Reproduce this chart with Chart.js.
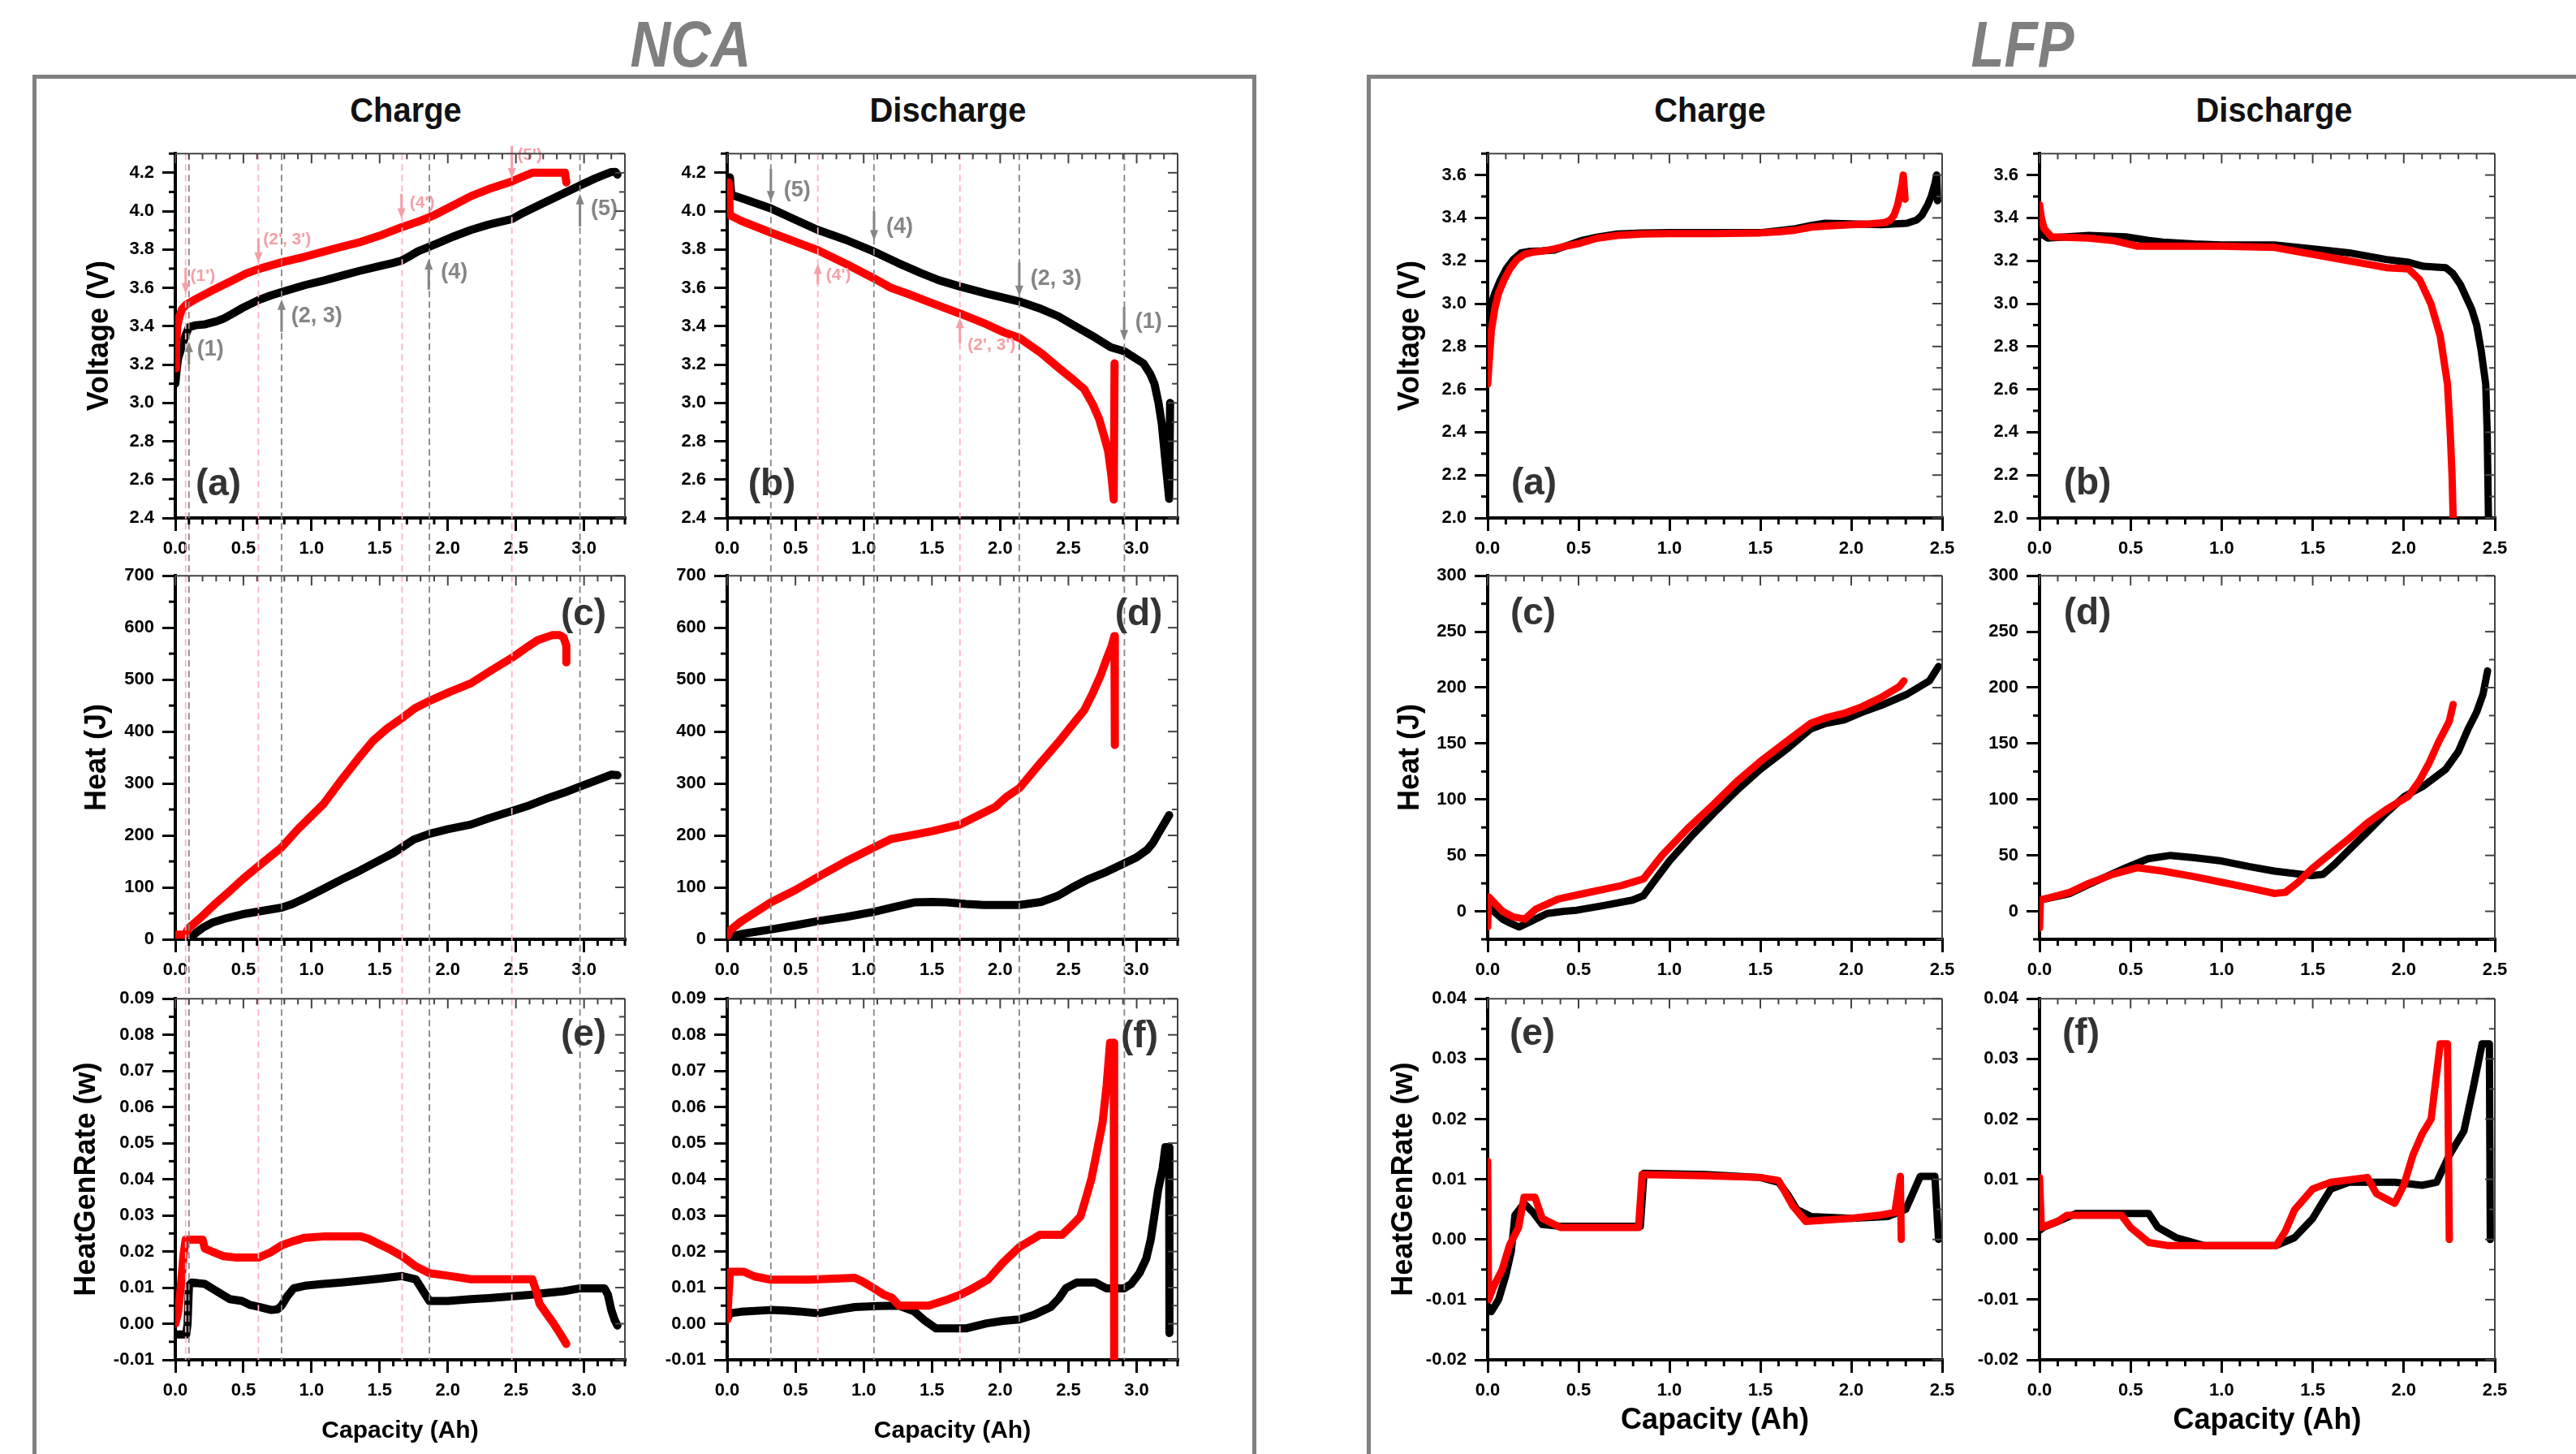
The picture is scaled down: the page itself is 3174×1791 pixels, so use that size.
<!DOCTYPE html>
<html>
<head>
<meta charset="utf-8">
<title>NCA / LFP heat generation</title>
<script src="https://cdn.jsdelivr.net/npm/chart.js@4.4.1/dist/chart.umd.min.js"></script>
<style>
html, body { margin: 0; padding: 0; background: #fff; }
body { position: relative; width: 3174px; height: 1791px; overflow: hidden; font-family: "Liberation Sans", Arial, Helvetica, sans-serif; }
canvas { position: absolute; }
.box { position: absolute; border: 5px solid #808080; border-bottom: 0; }
.lbl { position: absolute; white-space: nowrap; font-weight: bold; line-height: 1; }
</style>
</head>
<body>
<div class="box" style="left:40px; top:92px; width:1498px; height:1760px;"></div>
<div class="box" style="left:1684px; top:92px; width:1600px; height:1760px;"></div>
<script>
// ticks
var ncaCapTicks = [0, 0.5, 1, 1.5, 2, 2.5, 3];
var lfpCapTicks = [0, 0.5, 1, 1.5, 2, 2.5];
var ncaVoltTicks = [2.4, 2.6, 2.8, 3.0, 3.2, 3.4, 3.6, 3.8, 4.0, 4.2];
var ncaHeatTicks = [0, 100, 200, 300, 400, 500, 600, 700];
var ncaRateTicks = [-0.01, 0, 0.01, 0.02, 0.03, 0.04, 0.05, 0.06, 0.07, 0.08, 0.09];
var lfpVoltTicks = [2.0, 2.2, 2.4, 2.6, 2.8, 3.0, 3.2, 3.4, 3.6];
var lfpHeatTicks = [0, 50, 100, 150, 200, 250, 300];
var lfpRateTicks = [-0.02, -0.01, 0, 0.01, 0.02, 0.03, 0.04];

// NCA charge : [capacity Ah, value]
var ncaVoltChgBlack = [[0.0,3.10],[0.01,3.17],[0.02,3.23],[0.05,3.30],[0.08,3.36],[0.10,3.395],[0.15,3.405],[0.22,3.41],[0.30,3.425],[0.35,3.438],[0.42,3.465],[0.49,3.494],[0.55,3.515],[0.61,3.536],[0.70,3.56],[0.78,3.578],[0.95,3.614],[1.10,3.64],[1.22,3.663],[1.35,3.688],[1.49,3.712],[1.60,3.73],[1.66,3.742],[1.72,3.765],[1.78,3.79],[1.865,3.815],[1.95,3.84],[2.04,3.867],[2.17,3.902],[2.30,3.93],[2.47,3.958],[2.55,3.99],[2.66,4.028],[2.80,4.075],[2.97,4.134],[3.08,4.17],[3.15,4.19],[3.20,4.204],[3.23,4.205],[3.245,4.19]];
var ncaVoltChgRed = [[0.0,3.18],[0.005,3.30],[0.015,3.40],[0.03,3.45],[0.05,3.49],[0.076,3.51],[0.136,3.536],[0.27,3.586],[0.41,3.635],[0.52,3.675],[0.61,3.698],[0.78,3.733],[0.95,3.762],[1.09,3.789],[1.22,3.814],[1.36,3.839],[1.50,3.872],[1.66,3.916],[1.80,3.95],[1.90,3.979],[2.04,4.03],[2.17,4.078],[2.32,4.12],[2.47,4.155],[2.55,4.18],[2.62,4.20],[2.86,4.20],[2.87,4.15]];
var ncaHeatChgBlack = [[0.10,0],[0.15,12],[0.20,22],[0.27,32],[0.38,41],[0.49,48],[0.62,54],[0.78,61],[0.86,68],[0.95,79],[1.08,96],[1.22,115],[1.36,133],[1.49,151],[1.60,166],[1.664,177],[1.75,192],[1.865,203],[2.0,212],[2.17,221],[2.30,233],[2.47,247],[2.60,258],[2.715,270],[2.85,282],[2.97,294],[3.10,307],[3.20,317],[3.245,316]];
var ncaHeatChgRed = [[0.0,9],[0.07,9],[0.10,22],[0.20,45],[0.30,70],[0.40,93],[0.50,117],[0.61,141],[0.70,160],[0.78,177],[0.90,212],[1.086,260],[1.22,307],[1.358,353],[1.45,382],[1.55,405],[1.664,426],[1.76,445],[1.865,459],[2.02,477],[2.17,493],[2.32,518],[2.47,542],[2.58,562],[2.66,576],[2.77,586],[2.82,586],[2.85,581],[2.87,565],[2.87,533]];
var ncaRateChgBlack = [[0.0,-0.003],[0.08,-0.003],[0.09,0.0],[0.10,0.0105],[0.12,0.0114],[0.217,0.011],[0.27,0.0098],[0.326,0.0085],[0.40,0.0068],[0.489,0.0063],[0.55,0.0052],[0.61,0.0047],[0.706,0.0038],[0.75,0.004],[0.78,0.005],[0.82,0.0075],[0.869,0.0098],[0.95,0.0105],[1.086,0.011],[1.22,0.0114],[1.358,0.0119],[1.50,0.0125],[1.664,0.0132],[1.765,0.0123],[1.82,0.009],[1.865,0.0063],[2.0,0.0063],[2.172,0.0068],[2.30,0.0071],[2.471,0.0076],[2.60,0.008],[2.715,0.0085],[2.85,0.009],[2.973,0.0098],[3.05,0.0098],[3.15,0.0098],[3.175,0.008],[3.20,0.0038],[3.225,0.001],[3.245,-0.0005]];
var ncaRateChgRed = [[0.0,0.0],[0.02,0.003],[0.04,0.01],[0.06,0.019],[0.076,0.0233],[0.12,0.0233],[0.20,0.0233],[0.217,0.0208],[0.28,0.0198],[0.353,0.0187],[0.45,0.0183],[0.61,0.0183],[0.70,0.0198],[0.78,0.0217],[0.86,0.0228],[0.95,0.0238],[1.10,0.0242],[1.358,0.0242],[1.42,0.0235],[1.493,0.0221],[1.58,0.0205],[1.664,0.0187],[1.76,0.016],[1.865,0.014],[2.0,0.0133],[2.172,0.0123],[2.40,0.0123],[2.62,0.0123],[2.645,0.0095],[2.674,0.0055],[2.72,0.003],[2.77,0.0004],[2.82,-0.0025],[2.87,-0.0056]];

// NCA discharge
var ncaVoltDisBlack = [[0.02,4.176],[0.03,4.085],[0.12,4.064],[0.32,4.014],[0.50,3.955],[0.664,3.902],[0.87,3.85],[1.076,3.789],[1.25,3.73],[1.42,3.677],[1.55,3.64],[1.705,3.607],[1.90,3.57],[2.14,3.529],[2.30,3.49],[2.425,3.452],[2.55,3.40],[2.70,3.339],[2.81,3.29],[2.91,3.269],[3.05,3.206],[3.10,3.15],[3.13,3.10],[3.16,3.00],[3.184,2.89],[3.21,2.70],[3.238,2.50],[3.245,3.0]];
var ncaVoltDisRed = [[0.01,4.15],[0.02,3.979],[0.10,3.95],[0.32,3.888],[0.50,3.84],[0.664,3.796],[0.87,3.725],[1.076,3.649],[1.20,3.60],[1.34,3.564],[1.50,3.52],[1.705,3.466],[1.90,3.41],[2.02,3.37],[2.14,3.339],[2.30,3.26],[2.425,3.185],[2.52,3.13],[2.615,3.072],[2.68,2.99],[2.724,2.918],[2.76,2.83],[2.791,2.749],[2.815,2.62],[2.832,2.496],[2.838,3.206]];
var ncaHeatDisBlack = [[0.0,0],[0.05,7],[0.122,11],[0.32,19],[0.50,27],[0.664,35],[0.87,43],[1.076,53],[1.22,62],[1.37,71],[1.50,72],[1.61,71],[1.75,68],[1.88,66],[2.0,66],[2.14,66],[2.30,72],[2.425,84],[2.53,100],[2.64,115],[2.78,130],[2.908,146],[3.0,158],[3.076,172],[3.12,186],[3.157,203],[3.20,222],[3.238,239]];
var ncaHeatDisRed = [[0.0,6],[0.02,17],[0.10,34],[0.32,71],[0.50,95],[0.664,120],[0.87,150],[1.076,177],[1.20,193],[1.34,200],[1.50,208],[1.705,221],[1.85,240],[1.965,255],[2.05,275],[2.14,291],[2.28,335],[2.425,379],[2.52,410],[2.615,441],[2.68,475],[2.737,509],[2.78,540],[2.818,566],[2.837,584],[2.84,374]];
var ncaRateDisBlack = [[0.0,0.0012],[0.02,0.0029],[0.10,0.0033],[0.32,0.0038],[0.45,0.0036],[0.528,0.0034],[0.664,0.0029],[0.80,0.0038],[0.935,0.0046],[1.10,0.0049],[1.26,0.005],[1.37,0.0034],[1.45,0.0008],[1.53,-0.0013],[1.65,-0.0013],[1.748,-0.0013],[1.90,0.0001],[2.02,0.0008],[2.14,0.0012],[2.25,0.0025],[2.37,0.0046],[2.43,0.007],[2.48,0.0098],[2.56,0.0114],[2.696,0.0114],[2.778,0.0098],[2.908,0.0098],[2.96,0.011],[3.02,0.014],[3.07,0.018],[3.103,0.0233],[3.13,0.03],[3.157,0.037],[3.19,0.043],[3.21,0.0489],[3.238,0.0489],[3.24,-0.0026]];
var ncaRateDisRed = [[0.0,0.0011],[0.02,0.0144],[0.122,0.0144],[0.20,0.0131],[0.32,0.0122],[0.60,0.0122],[0.935,0.0127],[1.0,0.0115],[1.076,0.0098],[1.15,0.008],[1.206,0.0072],[1.26,0.005],[1.477,0.005],[1.60,0.0065],[1.705,0.008],[1.80,0.0098],[1.91,0.0122],[2.02,0.0169],[2.14,0.0212],[2.29,0.0246],[2.453,0.0246],[2.52,0.027],[2.588,0.0297],[2.63,0.035],[2.67,0.0404],[2.71,0.048],[2.75,0.0557],[2.78,0.066],[2.805,0.0778],[2.832,0.0778],[2.835,-0.012]];

// LFP charge
var lfpVoltChgBlack = [[0.0,2.936],[0.02,3.0],[0.04,3.049],[0.07,3.11],[0.102,3.162],[0.14,3.205],[0.184,3.237],[0.224,3.243],[0.30,3.246],[0.367,3.25],[0.44,3.272],[0.51,3.293],[0.60,3.31],[0.714,3.325],[0.85,3.33],[1.0,3.331],[1.25,3.331],[1.50,3.331],[1.60,3.34],[1.694,3.35],[1.78,3.365],[1.857,3.375],[2.0,3.372],[2.163,3.368],[2.306,3.375],[2.36,3.39],[2.388,3.412],[2.42,3.46],[2.44,3.50],[2.46,3.56],[2.47,3.60],[2.475,3.48]];
var lfpVoltChgRed = [[0.0,2.624],[0.01,2.75],[0.02,2.874],[0.04,2.98],[0.06,3.049],[0.09,3.11],[0.122,3.162],[0.16,3.205],[0.204,3.231],[0.25,3.24],[0.30,3.245],[0.367,3.255],[0.44,3.27],[0.51,3.282],[0.60,3.305],[0.714,3.318],[0.85,3.325],[1.0,3.327],[1.25,3.327],[1.50,3.33],[1.60,3.335],[1.694,3.343],[1.78,3.357],[1.857,3.362],[2.0,3.368],[2.10,3.372],[2.184,3.378],[2.215,3.39],[2.235,3.412],[2.255,3.46],[2.265,3.50],[2.28,3.56],[2.286,3.60],[2.296,3.487]];
var lfpHeatChgBlack = [[0.0,5],[0.04,-1],[0.082,-7],[0.13,-11],[0.173,-14],[0.224,-10],[0.327,-2],[0.42,0],[0.49,1],[0.633,5],[0.796,10],[0.857,14],[0.93,30],[1.0,45],[1.12,67],[1.245,88],[1.37,108],[1.50,127],[1.653,146],[1.776,163],[1.86,168],[1.96,171],[2.06,178],[2.163,184],[2.306,194],[2.43,206],[2.48,219]];
var lfpHeatChgRed = [[0.0,-14],[0.005,13],[0.04,7],[0.082,0],[0.14,-5],[0.204,-7],[0.265,2],[0.388,11],[0.531,16],[0.735,23],[0.857,29],[0.959,50],[1.10,74],[1.245,96],[1.37,116],[1.50,134],[1.653,153],[1.776,168],[1.86,173],[1.96,177],[2.06,183],[2.163,191],[2.265,201],[2.29,206]];
var lfpRateChgBlack = [[0.0,-0.011],[0.02,-0.012],[0.06,-0.01],[0.10,-0.006],[0.13,-0.002],[0.15,0.004],[0.20,0.006],[0.25,0.0045],[0.30,0.0025],[0.40,0.0022],[0.60,0.0022],[0.84,0.0022],[0.86,0.011],[1.20,0.0108],[1.50,0.0103],[1.60,0.0095],[1.65,0.0075],[1.70,0.005],[1.78,0.0038],[2.0,0.0035],[2.20,0.0038],[2.30,0.005],[2.38,0.0105],[2.46,0.0105],[2.48,0.0]];
var lfpRateChgRed = [[0.0,0.013],[0.005,-0.01],[0.03,-0.008],[0.08,-0.005],[0.12,-0.001],[0.17,0.002],[0.20,0.007],[0.26,0.007],[0.30,0.0035],[0.40,0.002],[0.60,0.002],[0.83,0.002],[0.85,0.0108],[1.20,0.0106],[1.50,0.0103],[1.60,0.0098],[1.68,0.0055],[1.75,0.003],[2.0,0.0035],[2.15,0.004],[2.24,0.0045],[2.27,0.0105],[2.275,0.0]];

// LFP discharge
var lfpVoltDisBlack = [[0.0,3.34],[0.01,3.325],[0.045,3.306],[0.27,3.318],[0.474,3.312],[0.60,3.295],[0.678,3.287],[0.85,3.278],[1.0,3.274],[1.29,3.274],[1.495,3.256],[1.70,3.237],[1.904,3.206],[2.026,3.193],[2.108,3.174],[2.23,3.168],[2.27,3.14],[2.312,3.087],[2.373,2.974],[2.40,2.90],[2.424,2.786],[2.45,2.624],[2.458,2.40],[2.465,2.0],[2.466,1.95]];
var lfpVoltDisRed = [[0.0,3.462],[0.01,3.40],[0.025,3.35],[0.065,3.312],[0.27,3.306],[0.413,3.293],[0.535,3.268],[0.75,3.268],[1.0,3.268],[1.29,3.262],[1.495,3.231],[1.70,3.20],[1.904,3.168],[2.026,3.162],[2.087,3.112],[2.149,2.999],[2.20,2.849],[2.24,2.624],[2.255,2.40],[2.265,2.2],[2.271,2.0],[2.272,1.95]];
var lfpHeatDisBlack = [[0.0,10],[0.167,16],[0.27,24],[0.474,39],[0.596,47],[0.719,50],[0.85,48],[1.0,45],[1.15,40],[1.29,36],[1.495,32],[1.556,33],[1.62,42],[1.70,55],[1.80,71],[1.904,88],[2.006,103],[2.108,112],[2.23,127],[2.30,143],[2.353,163],[2.40,178],[2.435,194],[2.46,215]];
var lfpHeatDisRed = [[0.0,-15],[0.005,10],[0.167,17],[0.27,25],[0.40,33],[0.535,39],[0.678,36],[0.85,31],[1.0,26],[1.15,21],[1.29,16],[1.35,17],[1.42,26],[1.495,38],[1.60,52],[1.70,65],[1.80,79],[1.904,91],[2.026,103],[2.087,117],[2.14,133],[2.19,151],[2.25,170],[2.271,185]];
var lfpRateDisBlack = [[0.0,0.0015],[0.02,0.002],[0.10,0.003],[0.20,0.0043],[0.40,0.0043],[0.60,0.0043],[0.65,0.002],[0.75,0.0003],[0.90,-0.001],[1.10,-0.001],[1.30,-0.001],[1.40,0.0003],[1.50,0.0035],[1.55,0.006],[1.60,0.0084],[1.70,0.0095],[1.85,0.0095],[1.95,0.0095],[2.10,0.009],[2.18,0.0095],[2.25,0.014],[2.33,0.018],[2.38,0.025],[2.43,0.0325],[2.47,0.0325],[2.475,0.0]];
var lfpRateDisRed = [[0.0,0.0103],[0.01,0.002],[0.10,0.003],[0.15,0.004],[0.45,0.004],[0.50,0.002],[0.60,-0.0005],[0.70,-0.001],[1.0,-0.001],[1.30,-0.001],[1.35,0.0014],[1.40,0.0049],[1.50,0.0084],[1.60,0.0095],[1.80,0.0103],[1.85,0.0076],[1.95,0.006],[2.0,0.009],[2.05,0.014],[2.10,0.0175],[2.15,0.02],[2.20,0.0325],[2.24,0.0325],[2.25,0.0]];

// NCA reference capacities (dashed lines)
var ncaChgRefGray = [0.10, 0.78, 1.865, 2.97];
var ncaChgRefPink = [0.076, 0.61, 1.665, 2.47];
var ncaDisRefGray = [0.32, 1.075, 2.14, 2.91];
var ncaDisRefPink = [0.664, 1.705];

// arrows on the voltage panels: x, tail, head, label, label x, label y
var ncaChgMarks = [
	[0.10, 3.20, 3.32, '(1)', 0.16, 3.28, 'g'],
	[0.78, 3.37, 3.54, '(2, 3)', 0.85, 3.45, 'g'],
	[1.86, 3.59, 3.75, '(4)', 1.95, 3.68, 'g'],
	[2.97, 3.92, 4.09, '(5)', 3.05, 4.01, 'g'],
	[0.076, 3.705, 3.57, "(1')", 0.11, 3.66, 'p'],
	[0.61, 3.86, 3.73, "(2', 3')", 0.645, 3.85, 'p'],
	[1.66, 4.09, 3.96, "(4')", 1.72, 4.04, 'p'],
	[2.47, 4.34, 4.17, "(5')", 2.51, 4.29, 'p']
];
var ncaDisMarks = [
	[0.32, 4.22, 4.05, '(5)', 0.415, 4.106, 'g'],
	[1.076, 4.0, 3.846, '(4)', 1.165, 3.916, 'g'],
	[2.14, 3.733, 3.557, '(2, 3)', 2.222, 3.646, 'g'],
	[2.908, 3.50, 3.325, '(1)', 2.989, 3.424, 'g'],
	[0.664, 3.62, 3.727, "(4')", 0.724, 3.664, 'p'],
	[1.705, 3.31, 3.445, "(2', 3')", 1.762, 3.30, 'p']
];

var FONT = '"Liberation Sans", Arial, Helvetica, sans-serif';
var GRAY = '#858585', PINK = '#f4a0a6';
Chart.defaults.font.family = FONT;
Chart.defaults.color = '#000';

var T = 20, R = 30;

function steps(min, max, step) {
	var out = [];
	var n = Math.round((max - min) / step);
	for(var i=0; i<=n; i++) out.push(min + i * step);
	return out;
}

function panel(p) {
	var W = p.w + p.L + R, H = p.h + T + p.B;
	var cv = document.createElement('canvas');
	cv.width = W; cv.height = H;
	cv.style.left = (p.left - p.L) + 'px';
	cv.style.top = (p.top - T) + 'px';
	cv.style.width = W + 'px';
	cv.style.height = H + 'px';
	document.body.appendChild(cv);

	var sets = p.series.map(function(s) {
		return {
			data: s[0].map(function(q) { return {x: q[0], y: q[1]}; }),
			borderColor: s[1], backgroundColor: s[1],
			borderWidth: p.lw, pointRadius: 0, showLine: true, tension: 0,
			borderCapStyle: 'round', borderJoinStyle: 'round'
		};
	});

	var extras = {
		id: 'extras',
		afterDatasetsDraw: function(chart) {
			var ctx = chart.ctx, a = chart.chartArea, x = chart.scales.x, y = chart.scales.y;
			ctx.save();
			// dashed reference lines
			ctx.lineWidth = 1.8;
			ctx.setLineDash([8, 5]);
			(p.refs || []).forEach(function(r) {
				var px = x.getPixelForValue(r[0]);
				ctx.strokeStyle = r[1];
				ctx.beginPath(); ctx.moveTo(px, a.top); ctx.lineTo(px, a.bottom + (p.ext || 0)); ctx.stroke();
			});
			ctx.setLineDash([]);
			// arrows + labels
			(p.marks || []).forEach(function(m) {
				var col = m[6] == 'g' ? GRAY : PINK;
				var px = x.getPixelForValue(m[0]), y0 = y.getPixelForValue(m[1]), y1 = y.getPixelForValue(m[2]);
				var d = y1 > y0 ? 1 : -1;
				ctx.strokeStyle = col; ctx.fillStyle = col; ctx.lineWidth = 3;
				ctx.beginPath(); ctx.moveTo(px, y0); ctx.lineTo(px, y1 - d * 10); ctx.stroke();
				ctx.beginPath(); ctx.moveTo(px, y1); ctx.lineTo(px - 5, y1 - d * 13); ctx.lineTo(px + 5, y1 - d * 13); ctx.closePath(); ctx.fill();
				ctx.font = 'bold ' + (m[6] == 'g' ? 27 : 21) + 'px ' + FONT;
				ctx.textAlign = 'left'; ctx.textBaseline = 'middle';
				ctx.fillText(m[3], x.getPixelForValue(m[4]), y.getPixelForValue(m[5]));
			});
			ctx.restore();
		},
		afterDraw: function(chart) {
			var ctx = chart.ctx, a = chart.chartArea, x = chart.scales.x, y = chart.scales.y;
			function seg(x1, y1, x2, y2) { ctx.beginPath(); ctx.moveTo(x1, y1); ctx.lineTo(x2, y2); ctx.stroke(); }
			function isMajor(sc, v, st) { return sc.ticks.some(function(t) { return Math.abs(t.value - v) < st / 10; }); }
			ctx.save();
			// top / right frame
			ctx.strokeStyle = '#444'; ctx.lineWidth = 2;
			seg(a.left, a.top, a.right, a.top);
			seg(a.right, a.top, a.right, a.bottom);
			steps(x.min, x.max, p.xMinor).forEach(function(v) {
				var px = x.getPixelForValue(v), maj = isMajor(x, v, p.xMinor);
				ctx.strokeStyle = '#444'; ctx.lineWidth = 2;
				seg(px, a.top, px, a.top + (maj ? 12 : 7));
				if(!maj) { ctx.strokeStyle = '#000'; ctx.lineWidth = 3; seg(px, a.bottom, px, a.bottom + 8); }
			});
			steps(y.min, y.max, p.yMinor).forEach(function(v) {
				var py = y.getPixelForValue(v), maj = isMajor(y, v, p.yMinor);
				ctx.strokeStyle = '#444'; ctx.lineWidth = 2;
				seg(a.right, py, a.right - (maj ? 12 : 7), py);
				if(!maj) { ctx.strokeStyle = '#000'; ctx.lineWidth = 3; seg(a.left, py, a.left - 8, py); }
			});
			ctx.restore();
		}
	};

	function axis(min, max, ticks, dec, title, tsize, horiz) {
		return {
			type: 'linear', min: min, max: max,
			afterBuildTicks: function(s) { s.ticks = ticks.map(function(v) { return {value: v}; }); },
			afterFit: function(s) { if(horiz) s.height = p.B; else s.width = p.L; },
			ticks: {
				autoSkip: false, maxRotation: 0, padding: horiz ? 9 : 10, color: '#000',
				font: {size: 22, weight: 'bold'},
				callback: function(v) { return Number(v).toFixed(dec); }
			},
			grid: {display: true, drawOnChartArea: false, drawTicks: true, tickLength: 16, tickWidth: 3, tickColor: '#000', color: '#000', lineWidth: 3},
			border: {display: true, color: '#000', width: 4},
			title: {display: !!title, text: title || '', color: '#000', padding: 0, font: {size: tsize, weight: 'bold'}}
		};
	}

	return new Chart(cv, {
		type: 'scatter',
		data: {datasets: sets},
		options: {
			responsive: false, animation: false, devicePixelRatio: 1,
			layout: {padding: {left: 0, top: T, right: R, bottom: 0}},
			plugins: {legend: {display: false}, tooltip: {enabled: false}},
			scales: {
				x: axis(p.xMin, p.xMax, p.xTicks, 1, p.xTitle, p.xTitleSize, true),
				y: axis(p.yMin, p.yMax, p.yTicks, p.dec, p.yTitle, 36, false)
			}
		},
		plugins: [extras]
	});
}

// layout
var col = {nca1: [216, 554], nca2: [896, 555], lfp1: [1833, 560], lfp2: [2513, 561]};
var row = [[186, 452], [706, 451], [1227, 448]];
function place(c, r, o) {
	o.left = col[c][0]; o.w = col[c][1];
	o.top = row[r][0]; o.h = row[r][1];
	if(c.indexOf('nca') == 0) { o.xMin = 0; o.xMax = 3.3; o.xTicks = ncaCapTicks; o.lw = 10; }
	else { o.xMin = 0; o.xMax = 2.5; o.xTicks = lfpCapTicks; o.lw = 9; }
	o.xMinor = 0.1;
	if(!o.B) o.B = 75;
	panel(o);
}

var chgRefs = ncaChgRefGray.map(function(v) { return [v, GRAY]; }).concat(ncaChgRefPink.map(function(v) { return [v, '#ffb3c4']; }));
var disRefs = ncaDisRefGray.map(function(v) { return [v, GRAY]; }).concat(ncaDisRefPink.map(function(v) { return [v, '#ffb3c4']; }));

// NCA
place('nca1', 0, {L: 115, yMin: 2.4, yMax: 4.3, yTicks: ncaVoltTicks, yMinor: 0.1, dec: 1, yTitle: 'Voltage (V)', refs: chgRefs, ext: 69, marks: ncaChgMarks, series: [[ncaVoltChgRed, '#ff0000'], [ncaVoltChgBlack, '#000']]});
place('nca2', 0, {L: 100, yMin: 2.4, yMax: 4.3, yTicks: ncaVoltTicks, yMinor: 0.1, dec: 1, refs: disRefs, ext: 69, marks: ncaDisMarks, series: [[ncaVoltDisRed, '#ff0000'], [ncaVoltDisBlack, '#000']]});
place('nca1', 1, {L: 118, yMin: 0, yMax: 700, yTicks: ncaHeatTicks, yMinor: 50, dec: 0, yTitle: 'Heat (J)', refs: chgRefs, ext: 71, series: [[ncaHeatChgRed, '#ff0000'], [ncaHeatChgBlack, '#000']]});
place('nca2', 1, {L: 100, yMin: 0, yMax: 700, yTicks: ncaHeatTicks, yMinor: 50, dec: 0, refs: disRefs, ext: 71, series: [[ncaHeatDisRed, '#ff0000'], [ncaHeatDisBlack, '#000']]});
place('nca1', 2, {L: 131, B: 106, yMin: -0.01, yMax: 0.09, yTicks: ncaRateTicks, yMinor: 0.005, dec: 2, yTitle: 'HeatGenRate (w)', xTitle: 'Capacity (Ah)', xTitleSize: 30, refs: chgRefs, series: [[ncaRateChgRed, '#ff0000'], [ncaRateChgBlack, '#000']]});
place('nca2', 2, {L: 100, B: 106, yMin: -0.01, yMax: 0.09, yTicks: ncaRateTicks, yMinor: 0.005, dec: 2, xTitle: 'Capacity (Ah)', xTitleSize: 30, refs: disRefs, series: [[ncaRateDisRed, '#ff0000'], [ncaRateDisBlack, '#000']]});

// LFP
place('lfp1', 0, {L: 117, yMin: 2.0, yMax: 3.7, yTicks: lfpVoltTicks, yMinor: 0.1, dec: 1, yTitle: 'Voltage (V)', series: [[lfpVoltChgRed, '#ff0000'], [lfpVoltChgBlack, '#000']]});
place('lfp2', 0, {L: 100, yMin: 2.0, yMax: 3.7, yTicks: lfpVoltTicks, yMinor: 0.1, dec: 1, series: [[lfpVoltDisRed, '#ff0000'], [lfpVoltDisBlack, '#000']]});
place('lfp1', 1, {L: 117, yMin: -25, yMax: 300, yTicks: lfpHeatTicks, yMinor: 25, dec: 0, yTitle: 'Heat (J)', series: [[lfpHeatChgRed, '#ff0000'], [lfpHeatChgBlack, '#000']]});
place('lfp2', 1, {L: 100, yMin: -25, yMax: 300, yTicks: lfpHeatTicks, yMinor: 25, dec: 0, series: [[lfpHeatDisRed, '#ff0000'], [lfpHeatDisBlack, '#000']]});
place('lfp1', 2, {L: 125, B: 97, yMin: -0.02, yMax: 0.04, yTicks: lfpRateTicks, yMinor: 0.005, dec: 2, yTitle: 'HeatGenRate (w)', xTitle: 'Capacity (Ah)', xTitleSize: 36, series: [[lfpRateChgRed, '#ff0000'], [lfpRateChgBlack, '#000']]});
place('lfp2', 2, {L: 100, B: 97, yMin: -0.02, yMax: 0.04, yTicks: lfpRateTicks, yMinor: 0.005, dec: 2, xTitle: 'Capacity (Ah)', xTitleSize: 36, series: [[lfpRateDisRed, '#ff0000'], [lfpRateDisBlack, '#000']]});

// headings and panel letters
function label(text, cx, base, size, color, italic, sx) {
	var d = document.createElement('div');
	d.className = 'lbl';
	d.textContent = text;
	d.style.left = cx + 'px';
	d.style.top = (base - 0.8465 * size) + 'px';
	d.style.fontSize = size + 'px';
	d.style.color = color;
	if(italic) d.style.fontStyle = 'italic';
	d.style.transform = 'translateX(-50%)' + (sx ? ' scaleX(' + sx + ')' : '');
	document.body.appendChild(d);
}
label('NCA', 851, 83, 80, '#7f7f7f', true, 0.86);
label('LFP', 2492, 83, 80, '#7f7f7f', true, 0.84);
label('Charge', 500, 151, 42, '#111', false, 0.95);
label('Discharge', 1168, 151, 42, '#111', false, 0.95);
label('Charge', 2107, 151, 42, '#111', false, 0.95);
label('Discharge', 2802, 151, 42, '#111', false, 0.95);

var letters = [
	['(a)', 269, 598], ['(b)', 951, 598], ['(c)', 719, 758], ['(d)', 1403, 758], ['(e)', 719, 1276], ['(f)', 1404, 1278],
	['(a)', 1890, 597], ['(b)', 2572, 597], ['(c)', 1889, 757], ['(d)', 2572, 757], ['(e)', 1888, 1275], ['(f)', 2564, 1275]
];
letters.forEach(function(l) { label(l[0], l[1], l[2] + 12, 46, '#333'); });
</script>
</body>
</html>
